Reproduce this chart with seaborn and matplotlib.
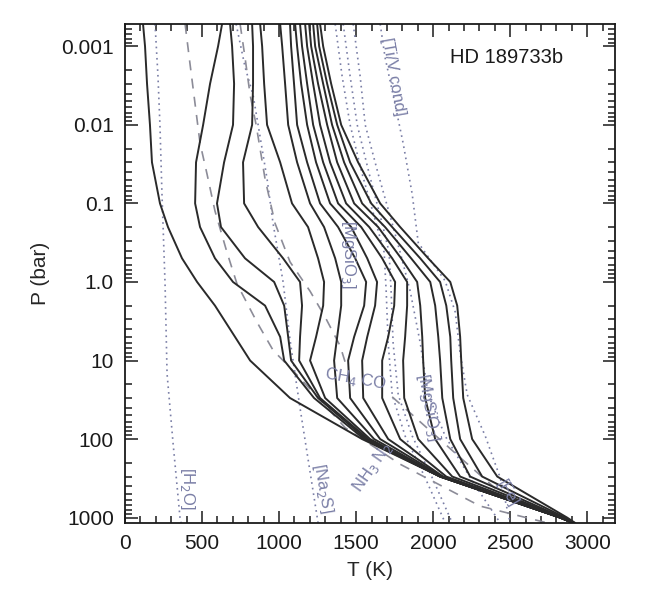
import numpy as np
import pandas as pd
import matplotlib
matplotlib.use("Agg")
import matplotlib.pyplot as plt
import seaborn as sns
from matplotlib.ticker import FixedLocator, MultipleLocator, NullFormatter, LogLocator

sns.set_theme(style="ticks")
plt.rcParams['font.family'] = ['Liberation Sans', 'DejaVu Sans']

# ---------------- data ----------------
pressure_bar = [5.2e-4, 1e-3, 3e-3, 1e-2, 3e-2, 0.1, 0.2, 0.5, 1, 2, 5, 10, 30, 100, 300, 1000, 1170]

profile_01 = [117, 130, 143, 162, 175, 227, 279, 370, 468, 584, 714, 812, 1071, 1539, 2045, 2825, 2909]
profile_02 = [630, 604, 552, 507, 461, 455, 487, 584, 701, 909, 1007, 1033, 1227, 1552, 2045, 2825, 2909]
profile_03 = [682, 695, 708, 701, 643, 597, 623, 779, 968, 1033, 1059, 1078, 1253, 1565, 2045, 2825, 2909]
profile_04 = [825, 831, 831, 825, 766, 773, 864, 1026, 1136, 1149, 1136, 1130, 1266, 1578, 2045, 2825, 2909]
profile_05 = [877, 890, 903, 922, 1007, 1084, 1188, 1253, 1292, 1286, 1240, 1201, 1299, 1591, 2045, 2825, 2909]
profile_06 = [1007, 1020, 1039, 1059, 1117, 1201, 1292, 1364, 1403, 1403, 1377, 1357, 1377, 1617, 2052, 2825, 2909]
profile_07 = [1071, 1078, 1097, 1117, 1182, 1266, 1383, 1494, 1565, 1552, 1487, 1448, 1461, 1656, 2059, 2825, 2909]
profile_08 = [1104, 1117, 1143, 1182, 1240, 1331, 1468, 1572, 1636, 1623, 1572, 1539, 1546, 1708, 2065, 2825, 2909]
profile_09 = [1136, 1149, 1182, 1221, 1286, 1383, 1533, 1669, 1753, 1747, 1708, 1669, 1669, 1786, 2085, 2831, 2909]
profile_10 = [1169, 1182, 1221, 1266, 1331, 1435, 1585, 1734, 1831, 1831, 1818, 1805, 1812, 1903, 2124, 2831, 2909]
profile_11 = [1195, 1208, 1253, 1312, 1377, 1487, 1643, 1792, 1896, 1916, 1929, 1935, 1948, 2013, 2175, 2838, 2916]
profile_12 = [1221, 1234, 1286, 1344, 1422, 1539, 1688, 1857, 1981, 2013, 2033, 2045, 2059, 2111, 2240, 2844, 2916]
profile_13 = [1247, 1260, 1312, 1377, 1461, 1598, 1734, 1916, 2045, 2085, 2111, 2117, 2130, 2175, 2318, 2857, 2916]
profile_14 = [1266, 1286, 1338, 1403, 1513, 1656, 1786, 1968, 2111, 2156, 2175, 2182, 2195, 2253, 2416, 2870, 2922]

# condensation curves (dotted)
h2o_T = [195, 214, 227, 240, 260, 273, 312, 357, 364]
h2o_P = [5.2e-4, 2.4e-3, 0.0103, 0.0764, 1.06, 14.8, 113, 1000, 1166]
na2s_T = [721, 779, 831, 864, 922, 961, 1026, 1071, 1136, 1253]
na2s_P = [5.2e-4, 1.83e-3, 4.16e-3, 0.01, 0.0488, 0.18, 1.0, 5.46, 40.3, 1166]
cond_P = [5.2e-4, 2.4e-3, 0.01, 0.042, 0.18, 0.42, 1.31, 5.97, 27.2, 91.4, 311, 1166]
mgsio3_T = [1364, 1409, 1461, 1539, 1630, 1682, 1695, 1708, 1734, 1818, 1948, 2078]
mg2sio4_T = [1416, 1461, 1507, 1585, 1669, 1714, 1727, 1740, 1773, 1864, 1994, 2124]
fe_T = [1481, 1526, 1559, 1643, 1734, 1786, 1851, 1916, 1968, 2078, 2240, 2435]
tiv_T = [1656, 1688, 1740, 1805, 1864, 1903, 2078, 2143, 2175, 2221, 2338, 2435, 2500]
tiv_P = [5.2e-4, 1.39e-3, 4.16e-3, 0.0171, 0.0764, 0.316, 0.97, 2.41, 8.1, 27.2, 91.4, 311, 1166]

# chemical boundaries (dashed)
nh3n2_T = [390, 422, 487, 532, 584, 662, 727, 857, 961, 1091, 1266, 1429, 1786, 2305, 2740]
nh3n2_P = [5.2e-4, 1.68e-3, 0.0171, 0.042, 0.125, 0.42, 1.06, 3.26, 7.4, 13.5, 31.6, 71.7, 209, 713, 1166]
ch4co_T = [747, 779, 812, 851, 909, 974, 1071, 1201, 1299, 1396, 1442]
ch4co_P = [5.2e-4, 1.39e-3, 4.16e-3, 0.01, 0.0488, 0.18, 0.555, 1.31, 2.8, 6.5, 12.7]
ch4co_T2 = [1734, 1981, 2208, 2403]
ch4co_P2 = [29, 78.5, 196, 423]

x_ticks = [0, 500, 1000, 1500, 2000, 2500, 3000]
y_ticks = [0.001, 0.01, 0.1, 1.0, 10, 100, 1000]
y_tick_labels = ["0.001", "0.01", "0.1", "1.0", "10", "100", "1000"]

# ---------------- build tables ----------------
profiles = [profile_01, profile_02, profile_03, profile_04, profile_05, profile_06, profile_07,
            profile_08, profile_09, profile_10, profile_11, profile_12, profile_13, profile_14]
rows = []
for i, prof in enumerate(profiles):
    for p, t in zip(pressure_bar, prof):
        rows.append({"profile": i, "P": p, "T": t})
df = pd.DataFrame(rows)

def frame(T, P, name):
    return pd.DataFrame({"T": T, "P": P, "curve": name})

dotted = pd.concat([frame(h2o_T, h2o_P, "h2o"), frame(na2s_T, na2s_P, "na2s"),
                    frame(mgsio3_T, cond_P, "mgsio3"), frame(mg2sio4_T, cond_P, "mg2sio4"),
                    frame(fe_T, cond_P, "fe"), frame(tiv_T, tiv_P, "tiv")], ignore_index=True)
dashed = pd.concat([frame(nh3n2_T, nh3n2_P, "n1"), frame(ch4co_T, ch4co_P, "c1"),
                    frame(ch4co_T2, ch4co_P2, "c2")], ignore_index=True)

# ---------------- plot ----------------
W, H = 670, 596
fig = plt.figure(figsize=(W / 100, H / 100), dpi=100)
fig.patch.set_facecolor("white")
ax = fig.add_axes([125 / W, 1 - 523 / H, 490 / W, 499 / H])
ax.set_facecolor("white")

cond_col = "#7a7ea6"
dash_col = "#8c8c98"

sns.lineplot(data=dotted, x="T", y="P", units="curve", estimator=None, sort=False,
             color=cond_col, lw=1.2, ax=ax, linestyle=(0, (1, 2.4)))
sns.lineplot(data=dashed, x="T", y="P", units="curve", estimator=None, sort=False,
             color=dash_col, lw=1.2, ax=ax, linestyle=(0, (6, 5)))
sns.lineplot(data=df, x="T", y="P", units="profile", estimator=None, sort=False,
             color="#2a2a2a", lw=1.4, ax=ax)

ax.set_yscale("log")
ax.set_xlim(0, 3180)
ax.set_ylim(1170, 5.2e-4)

ax.xaxis.set_major_locator(FixedLocator(x_ticks))
ax.xaxis.set_minor_locator(MultipleLocator(100))
ax.yaxis.set_major_locator(FixedLocator(y_ticks))
ax.set_yticklabels(y_tick_labels)
ax.yaxis.set_minor_locator(LogLocator(base=10, subs=np.arange(2, 10), numticks=20))
ax.yaxis.set_minor_formatter(NullFormatter())

ax.tick_params(which="both", direction="in", top=True, right=True, colors="#1a1a1a",
               labelsize=15, width=1.1)
ax.tick_params(which="major", length=9, pad=8)
ax.tick_params(which="minor", length=5)
for s in ax.spines.values():
    s.set_linewidth(1.3)
    s.set_color("#1a1a1a")

ax.set_xlabel("T (K)", fontsize=15, labelpad=6)
ax.set_ylabel("P (bar)", fontsize=15, labelpad=8)

ax.text(0.663, 0.932, "HD 189733b", transform=ax.transAxes, fontsize=14.5,
        ha="left", va="center", color="#1a1a1a")

lab = dict(color=cond_col, fontsize=12, ha="center", va="center")
ax.text(403, 424, "[H$_2$O]", rotation=-90, **lab)
ax.text(1286, 424, "[Na$_2$S]", rotation=-80, **lab)
ax.text(1448, 0.44, "[MgSiO$_3$]", rotation=-90, **lab)
ax.text(1968, 39, "[MgSiO$_3$]", rotation=-80, **lab)
ax.text(2480, 494, "[Fe]", rotation=-60, **lab)
ax.text(1740, 0.0024, "[Ti/V cond]", rotation=-80, **lab)
ax.text(1494, 17.2, "CH$_4$ CO", rotation=-10, **lab)
ax.text(1604, 229, "NH$_3$ N$_2$", rotation=55, **lab)

fig.savefig("out.png", dpi=100, facecolor="white")
